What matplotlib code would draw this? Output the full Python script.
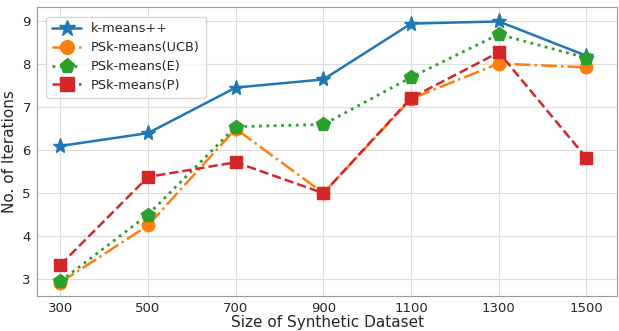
import matplotlib
matplotlib.use("Agg")
import matplotlib.pyplot as plt
import seaborn as sns

############### Data ################
sizes = [300, 500, 700, 900, 1100, 1300, 1500]
kmeans_pp = [6.1, 6.4, 7.46, 7.65, 8.95, 9.0, 8.2]
psk_ucb = [2.92, 4.25, 6.5, 5.0, 7.2, 8.02, 7.93]
psk_e = [2.95, 4.5, 6.55, 6.6, 7.7, 8.7, 8.15]
psk_p = [3.33, 5.38, 5.72, 5.0, 7.22, 8.28, 5.82]

sns.set_style("whitegrid")
plt.rcParams['font.family'] = ['DejaVu Sans']

fig = plt.figure(figsize=(6.19, 3.31), dpi=100)
ax = fig.add_axes([0.06, 0.105, 0.937, 0.873])

ax.plot(sizes, kmeans_pp, '-', marker='*', color='#1f77b4', lw=1.8, ms=11, label='k-means++')
ax.plot(sizes, psk_ucb, '-.', marker='o', color='#ff7f0e', lw=1.8, ms=9, label='PSk-means(UCB)')
ax.plot(sizes, psk_e, ':', marker='p', color='#2ca02c', lw=2.0, ms=10, label='PSk-means(E)')
ax.plot(sizes, psk_p, '--', marker='s', color='#d62728', lw=1.8, ms=9, label='PSk-means(P)')

ax.set_xticks(sizes)
ax.set_xlim(247, 1570)
ax.set_ylim(2.6, 9.33)
ax.tick_params(labelsize=9.5, pad=1)
ax.set_xlabel('Size of Synthetic Dataset', fontsize=11, labelpad=0)
ax.set_ylabel('No. of Iterations', fontsize=11, labelpad=4)
for s in ax.spines.values():
    s.set_color('#999999')
ax.grid(color='#dddddd')
ax.legend(loc='upper left', fontsize=9.3, frameon=True, borderpad=0.45,
          labelspacing=0.45, handlelength=2.2, markerscale=1.1,
          bbox_to_anchor=(0.005, 0.99))

fig.savefig('out.png', dpi=100)
